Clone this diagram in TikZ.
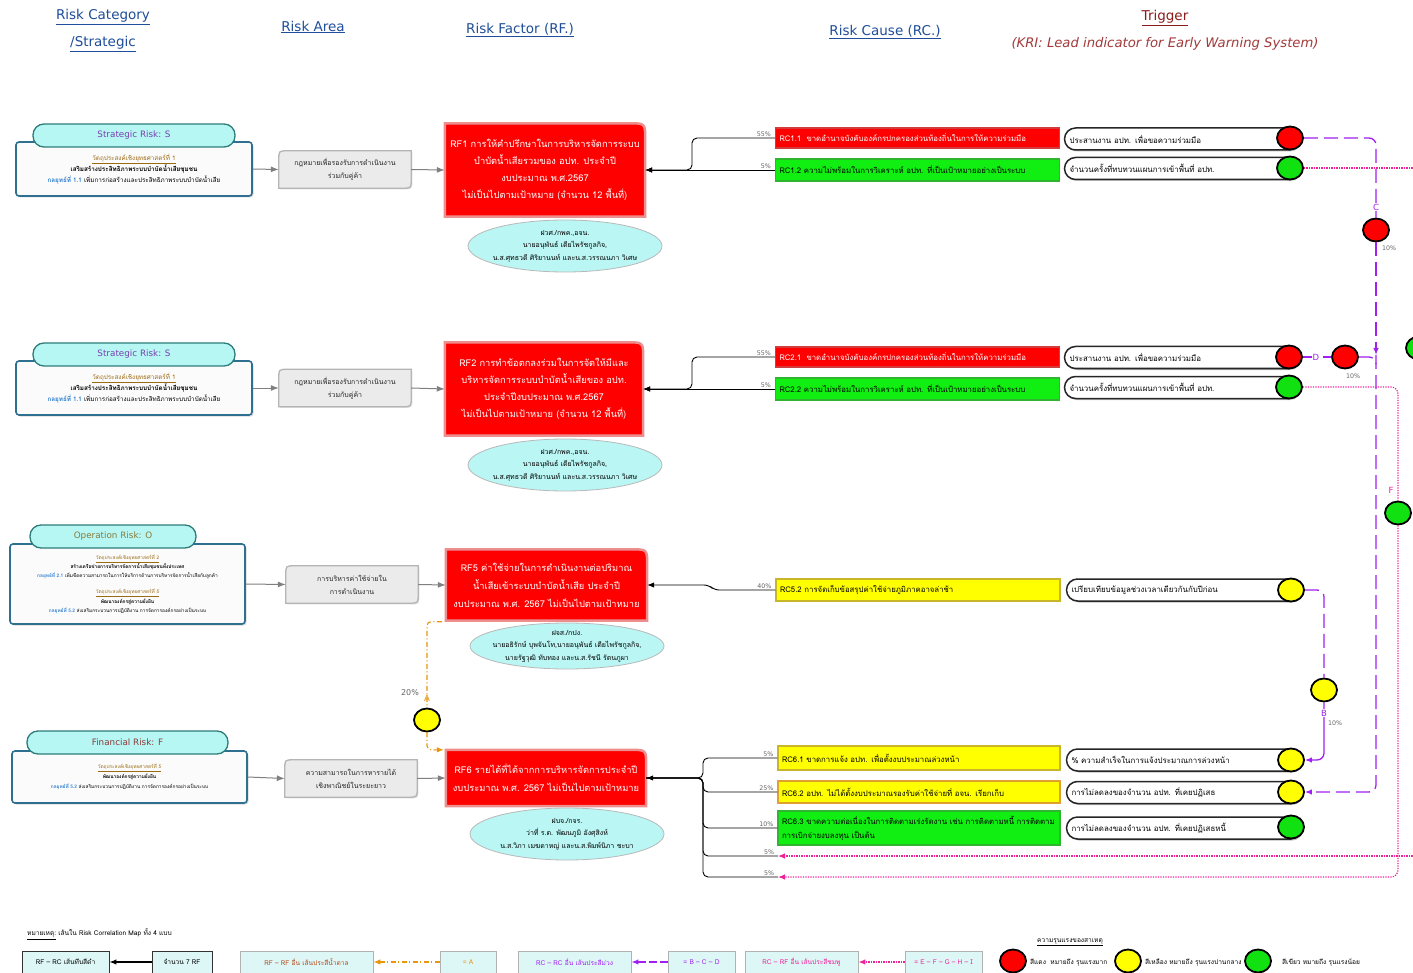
\documentclass[tikz,border=0pt]{standalone}
\usepackage{fontspec}
\setmainfont{DejaVu Sans}
\newfontfamily\thai[Script=Thai]{Loma}
\usetikzlibrary{shapes.geometric,arrows.meta,shadows,backgrounds}
\newcommand\fsz[2]{\fontsize{#1}{#2}\selectfont}
\definecolor{hdrblue}{HTML}{1F4E9A}
\definecolor{trigred}{HTML}{8E1B1B}
\definecolor{kri}{HTML}{A33A3A}
\definecolor{cathd}{HTML}{2E7C7A}
\definecolor{catfill}{HTML}{B6F7F4}
\definecolor{catbd}{HTML}{2F6F8F}
\definecolor{catbg}{HTML}{FBFBFB}
\definecolor{objbrown}{HTML}{9C6A12}
\definecolor{stratblue}{HTML}{2F7FD0}
\definecolor{purS}{HTML}{7A3FB0}
\definecolor{oliveO}{HTML}{8A7B3A}
\definecolor{redF}{HTML}{8B3A3A}
\definecolor{areafill}{HTML}{EBEBEB}
\definecolor{areabd}{HTML}{B5B5B5}
\definecolor{rfred}{HTML}{FF0000}
\definecolor{rfbd}{HTML}{EE8F8F}
\definecolor{respfill}{HTML}{BAF6F4}
\definecolor{rcred}{HTML}{FF0000}
\definecolor{rcredbd}{HTML}{D23C3C}
\definecolor{rcgreen}{HTML}{11EE11}
\definecolor{rcgreenbd}{HTML}{2FB52F}
\definecolor{rcyel}{HTML}{FFFF00}
\definecolor{rcyelbd}{HTML}{C9B52A}
\definecolor{rcorbd}{HTML}{E0A030}
\definecolor{cred}{HTML}{FF0000}
\definecolor{cgreen}{HTML}{11E011}
\definecolor{cyel}{HTML}{FFFF00}
\definecolor{purp}{HTML}{A020F0}
\definecolor{pinkc}{HTML}{F0209A}
\definecolor{orng}{HTML}{E8960A}
\definecolor{legfill}{HTML}{DDF6F6}
\definecolor{legbrown}{HTML}{B24A1A}
\newcommand\objl[1]{\textcolor{objbrown}{\underline{#1}}}
\newcommand\stl[1]{\textcolor{stratblue}{\textbf{#1}}}
\newcommand\AreaShp[1]{\path[areashp] ([yshift=-9pt]#1.north west) .. controls (#1.north west) .. ([xshift=9pt]#1.north west) -- (#1.north east) -- ([yshift=9pt]#1.south east) .. controls (#1.south east) .. ([xshift=-9pt]#1.south east) -- (#1.south west) -- cycle;}
\newcommand\RfShp[1]{\path[rfshp] (#1.north west) -- ([xshift=-16pt]#1.north east) .. controls (#1.north east) .. ([yshift=-16pt]#1.north east) -- (#1.south east) -- (#1.south west) -- cycle;}
\pgfdeclarelayer{bottom}
\pgfsetlayers{bottom,background,main}
\tikzset{
 hdr/.style={font=\fsz{13.5}{16}, text=hdrblue, inner sep=1pt},
 cathead/.style={draw=cathd, fill=catfill, line width=1.3pt, rounded corners=11pt, minimum height=23pt, inner sep=0pt, font=\fsz{8.8}{10}},
 catbody/.style={draw=catbd, fill=catbg, line width=1.6pt, rounded corners=3pt, align=center, inner sep=0pt, font=\thai\fsz{6.3}{11}, drop shadow={opacity=0.3, shadow xshift=1.5pt, shadow yshift=-1.5pt}},
 areatext/.style={minimum width=132pt, minimum height=37pt, align=center, inner sep=0pt, font=\thai\fsz{7}{13}, text=black!85},
 areashp/.style={fill=areafill, draw=areabd, line width=1.3pt, drop shadow={opacity=0.25, shadow xshift=1.2pt, shadow yshift=-1.2pt}},
 rftext/.style={align=center, inner sep=0pt, text=white, font=\thai\fsz{9.3}{17}},
 rfshp/.style={fill=rfred, draw=rfbd, line width=2.5pt},
 resp/.style={ellipse, draw=gray!55, fill=respfill, line width=0.8pt, minimum width=194pt, minimum height=52pt, inner sep=0pt},
 resptext/.style={align=center, inner sep=0pt, font=\thai\fsz{7}{12.5}},
 rcbase/.style={line width=1.2pt, minimum width=284pt, minimum height=22pt, text width=276pt, align=left, inner sep=3pt, font=\thai\fsz{7.8}{14}},
 rcR/.style={rcbase, fill=rcred, draw=rcredbd, text=white},
 rcG/.style={rcbase, fill=rcgreen, draw=rcgreenbd},
 rcY/.style={rcbase, fill=rcyel, draw=rcyelbd},
 trig/.style={draw=black!85, fill=white, line width=1.5pt, rounded corners=11pt, minimum width=235pt, minimum height=22pt, text width=225pt, align=left, inner sep=4pt, font=\thai\fsz{7.9}{9}, drop shadow={opacity=0.5, shadow xshift=1.5pt, shadow yshift=-1.5pt}},
 circ/.style={ellipse, draw=black, line width=1.8pt, minimum width=26pt, minimum height=23pt, inner sep=0pt, fill=#1},
 rcline/.style={draw=black, line width=0.9pt, rounded corners=5pt},
 arr/.style={-{Latex[length=7pt,width=5.5pt]}},
 grayarr/.style={draw=gray, line width=1pt, -{Latex[length=8pt,width=6pt]}},
 pct/.style={font=\fsz{6.3}{7}, text=black!60, inner sep=0.8pt, anchor=south east},
 pline/.style={draw=purp, line width=1.3pt, dash pattern=on 14pt off 6pt, rounded corners=7pt},
 fline/.style={draw=pinkc, line width=1.2pt, dash pattern=on 1.2pt off 1.3pt, rounded corners=7pt},
 aline/.style={draw=orng, line width=1.1pt, dash pattern=on 5pt off 2.5pt on 1pt off 2.5pt, rounded corners=4pt},
 lbl/.style={font=\fsz{8.5}{9}, inner sep=1pt, fill=white},
 legbox/.style={draw=gray!60, fill=legfill, line width=0.8pt, minimum height=22pt, inner sep=1pt, font=\thai\fsz{6.6}{7}},
 legtxt/.style={font=\thai\fsz{6.6}{7}, inner sep=1pt}
}
\begin{document}
\begin{tikzpicture}[x=1pt,y=-1pt]
\useasboundingbox (0,0) rectangle (1413,973);
\clip (0,0) rectangle (1413,973);
\begin{pgfonlayer}{bottom}
\fill[white] (0,0) rectangle (1413,973);
\end{pgfonlayer}

% ---------- headers ----------
\node[hdr] (h1) at (103,17) {\underline{Risk Category}};
\node[hdr] (h1b) at (103,44) {\underline{/Strategic}};
\node[hdr] (h2) at (313,27) {\underline{Risk Area}};
\node[hdr] (h3) at (520,30) {\underline{Risk Factor (RF.)}};
\node[hdr] (h4) at (885,32) {\underline{Risk Cause (RC.)}};
\node[hdr, text=trigred] (h5) at (1165,18) {\underline{Trigger}};
\node[hdr, text=kri, font=\itshape\fsz{13.2}{16}] (h6) at (1165,44) {(KRI: Lead indicator for Early Warning System)};

% ---------- categories ----------
\node[catbody, minimum width=236pt, minimum height=54pt] (cat1) at (134,169) {\objl{วัตถุประสงค์เชิงยุทธศาสตร์ที่ 1}\\ \textbf{เสริมสร้างประสิทธิภาพระบบบำบัดน้ำเสียชุมชน}\\ \stl{กลยุทธ์ที่ 1.1} เพิ่มการก่อสร้างและประสิทธิภาพระบบบำบัดน้ำเสีย};
\node[cathead, minimum width=202pt, text=purS] (cat1h) at (134,135.5) {Strategic Risk: S};

\node[catbody, minimum width=236pt, minimum height=54pt] (cat2) at (134,388) {\objl{วัตถุประสงค์เชิงยุทธศาสตร์ที่ 1}\\ \textbf{เสริมสร้างประสิทธิภาพระบบบำบัดน้ำเสียชุมชน}\\ \stl{กลยุทธ์ที่ 1.1} เพิ่มการก่อสร้างและประสิทธิภาพระบบบำบัดน้ำเสีย};
\node[cathead, minimum width=202pt, text=purS] (cat2h) at (134,354.5) {Strategic Risk: S};

\node[catbody, minimum width=235pt, minimum height=80pt, font=\thai\fsz{4.8}{9.3}] (cat3) at (127.5,584) {\objl{วัตถุประสงค์เชิงยุทธศาสตร์ที่ 2}\\ \textbf{สร้างเครือข่ายการบริหารจัดการน้ำเสียชุมชนทั้งประเทศ}\\ \stl{กลยุทธ์ที่ 2.1} เพิ่มขีดความสามารถในการให้บริการด้านการบริหารจัดการน้ำเสียกับลูกค้า\\[7pt] \objl{วัตถุประสงค์เชิงยุทธศาสตร์ที่ 5}\\ \textbf{พัฒนาองค์กรสู่ความยั่งยืน}\\ \stl{กลยุทธ์ที่ 5.2} ส่งเสริมกระบวนการปฏิบัติงาน การจัดการองค์กรอย่างเป็นระบบ};
\node[cathead, minimum width=166pt, text=oliveO] (cat3h) at (113,536.5) {Operation Risk: O};

\node[catbody, minimum width=235pt, minimum height=52pt, font=\thai\fsz{4.8}{10}] (cat4) at (129.5,777) {\objl{วัตถุประสงค์เชิงยุทธศาสตร์ที่ 5}\\ \textbf{พัฒนาองค์กรสู่ความยั่งยืน}\\ \stl{กลยุทธ์ที่ 5.2} ส่งเสริมกระบวนการปฏิบัติงาน การจัดการองค์กรอย่างเป็นระบบ};
\node[cathead, minimum width=201pt, text=redF] (cat4h) at (127.5,742.5) {Financial Risk: F};

% ---------- risk areas ----------
\node[areatext] (a1) at (345,169.5) {กฎหมายเพื่อรองรับการดำเนินงาน\\ร่วมกับคู่ค้า};
\node[areatext] (a2) at (345,388) {กฎหมายเพื่อรองรับการดำเนินงาน\\ร่วมกับคู่ค้า};
\node[areatext] (a3) at (352,584.5) {การบริหารค่าใช้จ่ายใน\\การดำเนินงาน};
\node[areatext] (a4) at (351,778.5) {ความสามารถในการหารายได้\\เชิงพาณิชย์ในระยะยาว};

% ---------- risk factors ----------
\node[rftext, minimum width=200pt, minimum height=93pt] (rf1) at (545,170) {RF1 การให้คำปรึกษาในการบริหารจัดการระบบ\\บำบัดน้ำเสียรวมของ อปท. ประจำปี\\งบประมาณ พ.ศ.2567\\ไม่เป็นไปตามเป้าหมาย (จำนวน 12 พื้นที่)};
\node[rftext, minimum width=198pt, minimum height=93pt] (rf2) at (544,389) {RF2 การทำข้อตกลงร่วมในการจัดให้มีและ\\บริหารจัดการระบบบำบัดน้ำเสียของ อปท.\\ประจำปีงบประมาณ พ.ศ.2567\\ไม่เป็นไปตามเป้าหมาย (จำนวน 12 พื้นที่)};
\node[rftext, minimum width=201pt, minimum height=71pt, font=\thai\fsz{9.3}{18}] (rf5) at (546.5,585) {RF5 ค่าใช้จ่ายในการดำเนินงานต่อปริมาณ\\น้ำเสียเข้าระบบบำบัดน้ำเสีย ประจำปี\\งบประมาณ พ.ศ. 2567 ไม่เป็นไปตามเป้าหมาย};
\node[rftext, minimum width=200pt, minimum height=56pt, font=\thai\fsz{9.3}{18}] (rf6) at (546,778) {RF6 รายได้ที่ได้จากการบริหารจัดการประจำปี\\งบประมาณ พ.ศ. 2567 ไม่เป็นไปตามเป้าหมาย};

\begin{pgfonlayer}{background}
\AreaShp{a1}\AreaShp{a2}\AreaShp{a3}\AreaShp{a4}
\RfShp{rf1}\RfShp{rf2}\RfShp{rf5}\RfShp{rf6}
\end{pgfonlayer}

% ---------- responsible persons ----------
\node[resp] (p1) at (565,246) {};
\node[resptext] (p1t) at (p1) {ฝวศ./กพค.,อจน.\\นายอนุพันธ์ เตียไพรัชกูลกิจ,\\น.ส.ศุทธวดี ศิริยานนท์ และน.ส.วรรณนภา วิเศษ};
\node[resp] (p2) at (565,465) {};
\node[resptext] (p2t) at (p2) {ฝวศ./กพค.,อจน.\\นายอนุพันธ์ เตียไพรัชกูลกิจ,\\น.ส.ศุทธวดี ศิริยานนท์ และน.ส.วรรณนภา วิเศษ};
\node[resp, minimum height=46pt] (p3) at (567,646) {};
\node[resptext] (p3t) at (p3) {ฝจส./กปง.\\นายอธิรักษ์ บุพจันโท,นายอนุพันธ์ เตียไพรัชกูลกิจ,\\นายรัฐวุฒิ ทับทอง และน.ส.รัชนี รัตนภูผา};
\node[resp] (p4) at (567,834) {};
\node[resptext] (p4t) at (p4) {ฝบจ./กจร.\\ว่าที่ ร.ต. พัฒนภูมิ อังศุสิงห์\\น.ส.วิภา เมฆดาหญ่ และน.ส.พิมพ์นิภา ชะบา};

% ---------- risk causes ----------
\node[rcR, minimum height=20pt] (rc11) at (917.5,138) {RC1.1\ \ ขาดอำนาจบังคับองค์กรปกครองส่วนท้องถิ่นในการให้ความร่วมมือ};
\node[rcG] (rc12) at (917.5,170) {RC1.2 ความไม่พร้อมในการวิเคราะห์ อปท. ที่เป็นเป้าหมายอย่างเป็นระบบ};
\node[rcR, minimum height=20pt] (rc21) at (917.5,357) {RC2.1\ \ ขาดอำนาจบังคับองค์กรปกครองส่วนท้องถิ่นในการให้ความร่วมมือ};
\node[rcG] (rc22) at (917.5,389) {RC2.2 ความไม่พร้อมในการวิเคราะห์ อปท. ที่เป็นเป้าหมายอย่างเป็นระบบ};
\node[rcY] (rc52) at (918,590) {RC5.2 การจัดเก็บข้อสรุปค่าใช้จ่ายภูมิภาคอาจล่าช้า};
\node[rcY, minimum width=282pt, text width=274pt, minimum height=24pt] (rc61) at (919,758) {RC6.1 ขาดการแจ้ง อปท. เพื่อตั้งงบประมาณล่วงหน้า};
\node[rcY, draw=rcorbd, minimum width=282pt, text width=274pt] (rc62) at (919,792) {RC6.2 อปท. ไม่ได้ตั้งงบประมาณรองรับค่าใช้จ่ายที่ อจน. เรียกเก็บ};
\node[rcG, minimum width=282pt, text width=274pt, minimum height=34pt] (rc63) at (919,828) {RC6.3 ขาดความต่อเนื่องในการติดตามเร่งรัดงาน เช่น การติดตามหนี้ การติดตาม\\การเบิกจ่ายงบลงทุน เป็นต้น};
\coordinate (e1) at (778,856);
\coordinate (e2) at (778,877);

% ---------- triggers ----------
\node[trig] (t1) at (1182,139) {ประสานงาน อปท. เพื่อขอความร่วมมือ};
\node[trig] (t2) at (1182,168.5) {จำนวนครั้งที่ทบทวนแผนการเข้าพื้นที่ อปท.};
\node[trig] (t3) at (1182,357.5) {ประสานงาน อปท. เพื่อขอความร่วมมือ};
\node[trig] (t4) at (1182,387.5) {จำนวนครั้งที่ทบทวนแผนการเข้าพื้นที่ อปท.};
\node[trig] (t5) at (1184,590) {เปรียบเทียบข้อมูลช่วงเวลาเดียวกันกับปีก่อน};
\node[trig] (t6) at (1184,760) {\% ความสำเร็จในการแจ้งประมาณการล่วงหน้า};
\node[trig] (t7) at (1184,792.5) {การไม่ลดลงของจำนวน อปท. ที่เคยปฏิเสธ};
\node[trig] (t8) at (1184,828) {การไม่ลดลงของจำนวน อปท. ที่เคยปฏิเสธหนี้};
\node[circ=cred] (c1) at (1290,138) {};
\node[circ=cgreen] (c2) at (1290,168) {};
\node[circ=cred] (c3) at (1289,357) {};
\node[circ=cgreen] (c4) at (1289,387) {};
\node[circ=cyel] (c5) at (1291,590) {};
\node[circ=cyel] (c6) at (1291,760) {};
\node[circ=cyel] (c7) at (1291,792) {};
\node[circ=cgreen] (c8) at (1291,827) {};
\node[circ=cred] (cC) at (1376,230) {};
\node[circ=cred] (cD) at (1345,357) {};
\node[circ=cyel] (cB) at (1324,690) {};
\node[circ=cgreen] (cF) at (1398,513) {};
\node[circ=cgreen] (cG) at (1419,348) {};
\node[circ=cyel] (cA) at (427,720) {};
\coordinate (offR1) at (1425,168);
\coordinate (offR2) at (1425,856);
\coordinate (jD) at (1376,355);

% ---------- category -> area -> RF ----------
\draw[grayarr] (cat1.east) -- (a1.west);
\draw[grayarr] (cat2.east) -- (a2.west);
\draw[grayarr] (cat3.east) -- (a3.west);
\draw[grayarr] (cat4.east) -- (a4.west);
\draw[grayarr] (a1.east) -- (rf1.west);
\draw[grayarr] (a2.east) -- (rf2.west);
\draw[grayarr] (a3.east) -- (rf5.west);
\draw[grayarr] (a4.east) -- (rf6.west);

% ---------- RC -> RF ----------
\draw[rcline,arr] (rc11.west) -- (692,138) |- (rf1.east);
\draw[rcline,arr] (rc12.west) -- (rf1.east);
\draw[rcline,arr] (rc21.west) -- (692,357) |- (rf2.east);
\draw[rcline,arr] (rc22.west) -- (rf2.east);
\draw[rcline,arr] (rc52.west) -- (714,590) -- (709,585) -- (rf5.east);
\draw[rcline] (rc62.west) -- (703,792) |- (rf6.east);
\draw[rcline] (rc63.west) -- (703,828) |- (rf6.east);
\draw[rcline] (e1) -- (703,856) |- (rf6.east);
\draw[rcline] (e2) -- (703,877) |- (rf6.east);
\draw[rcline,arr] (rc61.west) -- (703,758) |- (rf6.east);
\node[pct] (q1) at ([xshift=-3pt]rc11.west) {55\%};
\node[pct] (q2) at ([xshift=-3pt]rc12.west) {5\%};
\node[pct] (q3) at ([xshift=-3pt]rc21.west) {55\%};
\node[pct] (q4) at ([xshift=-3pt]rc22.west) {5\%};
\node[pct] (q5) at ([xshift=-3pt]rc52.west) {40\%};
\node[pct] (q6) at ([xshift=-3pt]rc61.west) {5\%};
\node[pct] (q7) at ([xshift=-3pt]rc62.west) {25\%};
\node[pct] (q8) at ([xshift=-3pt]rc63.west) {10\%};
\node[pct] (q9) at ([xshift=-3pt]e1) {5\%};
\node[pct] (q10) at ([xshift=-3pt]e2) {5\%};

% ---------- correlations ----------
% A (RF-RF)
\draw[aline] ([xshift=-4pt,yshift=-1pt]rf5.south west) -| (cA.north);
\draw[aline,arr] (cA.south) |- ([xshift=-2pt]rf6.north west);
\node[lbl, text=orng, fill=none] (lA) at (427,698) {A};
\node[pct, anchor=center, font=\fsz{8}{9}] (lA2) at (410,693) {20\%};
% C
\draw[pline] (c1.east) -| (cC.north);
\draw[pline,arr] (cC.south) -- (jD);
\node[lbl, text=purp] (lC) at (1376,207) {C};
\node[pct, anchor=center] (lC2) at (1389,248) {10\%};
% D
\draw[pline] (c3.east) -- (cD.west);
\node[lbl, text=purp] (lD) at (1316,357) {D};
\draw[pline] (cD.east) -| ([yshift=-8pt]jD);
\node[pct, anchor=center] (lD2) at (1353,376) {10\%};
\draw[pline,arr] (jD) |- (c7.east);
% B
\draw[pline] (c5.east) -| (cB.north);
\draw[pline, dash pattern=, arr] (cB.south) |- (c6.east);
\node[lbl, text=purp] (lB) at (1324,713) {B};
\node[pct, anchor=center] (lB2) at (1335,723) {10\%};
% F and others (RC-RF)
\draw[fline] (c2.east) -- (offR1);
\draw[fline] (c4.east) -| (cF.north);
\node[lbl, text=pinkc, fill=none] (lF) at (1391,490) {F};
\draw[fline,arr] (cF.south) |- (e2);
\draw[fline,arr] (offR2) -- (e1);

% ---------- legend ----------
\node[legtxt, anchor=west] (n1) at (26,934) {\underline{หมายเหตุ:} เส้นใน Risk Correlation Map ทั้ง 4 แบบ};
\node[legbox, draw=black!80, minimum width=87pt] (L1) at (65.5,962) {RF – RC เส้นทึบสีดำ};
\node[legbox, draw=black!80, minimum width=60pt] (L2) at (182,962) {จำนวน 7 RF};
\node[legbox, minimum width=133pt, text=legbrown] (L3) at (306.5,962) {RF – RF อื่น เส้นประสีน้ำตาล};
\node[legbox, minimum width=56pt, text=orng] (L4) at (468,962) {= A};
\node[legbox, minimum width=113pt, text=purp] (L5) at (574.5,962) {RC – RC อื่น เส้นประสีม่วง};
\node[legbox, minimum width=67pt, text=purp] (L6) at (701.5,962) {= B – C – D};
\node[legbox, minimum width=113pt, text=pinkc] (L7) at (801.5,962) {RC – RF อื่น เส้นประสีชมพู};
\node[legbox, minimum width=77pt, text=pinkc] (L8) at (943.5,962) {= E – F – G – H – I};
\draw[black, line width=1.3pt, arr] (L2.west) -- (L1.east);
\draw[aline, arr] (L4.west) -- (L3.east);
\draw[pline, dash pattern=on 8pt off 3pt, arr] (L6.west) -- (L5.east);
\draw[fline, arr] (L8.west) -- (L7.east);
\node[legtxt] (s0) at (1070,942) {\underline{ความรุนแรงของสาเหตุ}};
\node[circ=cred] (s1) at (1013,961) {};
\node[legtxt, anchor=west] (s1t) at (1029,963) {สีแดง\ \ หมายถึง รุนแรงมาก};
\node[circ=cyel] (s2) at (1128,961) {};
\node[legtxt, anchor=west] (s2t) at (1144,963) {สีเหลือง หมายถึง รุนแรงปานกลาง};
\node[circ=cgreen] (s3) at (1258,961) {};
\node[legtxt, anchor=west] (s3t) at (1281,963) {สีเขียว หมายถึง รุนแรงน้อย};
\end{tikzpicture}
\end{document}
